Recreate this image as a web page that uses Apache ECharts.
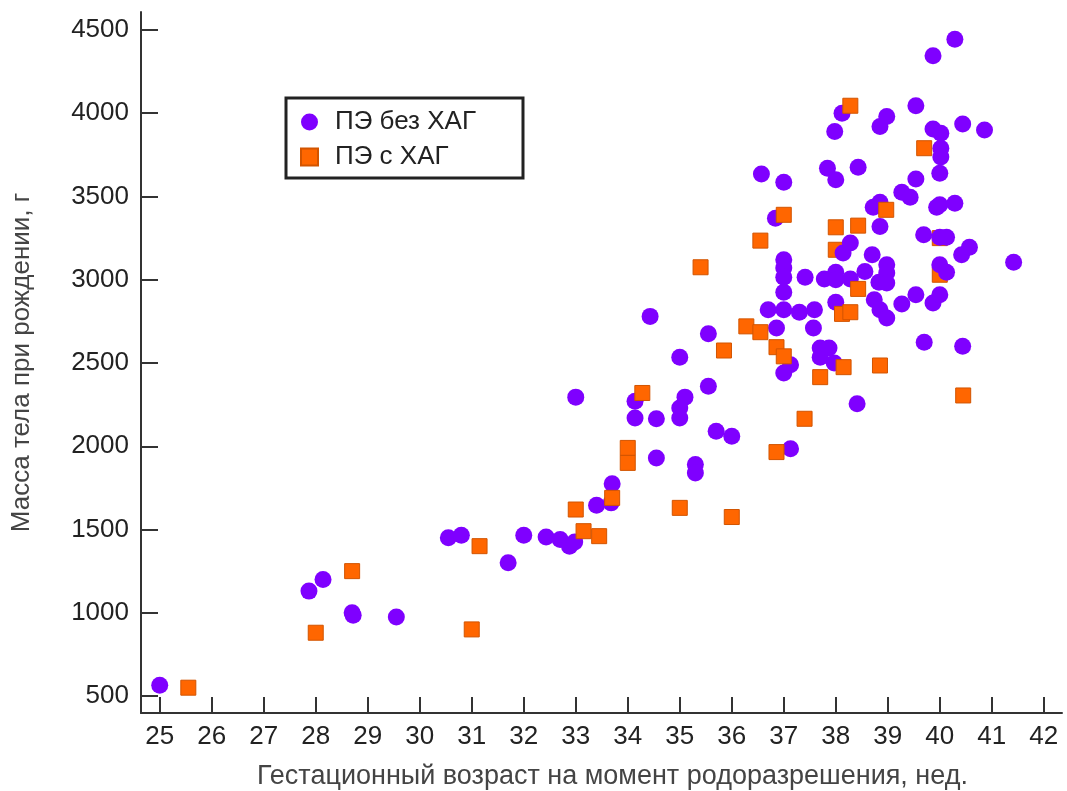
<!DOCTYPE html>
<html>
<head>
<meta charset="utf-8">
<script src="https://cdn.jsdelivr.net/npm/echarts@6/dist/echarts.min.js"></script>
<style>
	html, body { margin: 0; padding: 0; background: #fff; }
	#chart { width: 1067px; height: 791px; }
</style>
</head>
<body>
<div id="chart"></div>
<script>
	//ПЭ без ХАГ: [недели, граммы]
	var noHagPoints = [
		[25, 565], [27.87, 1130], [28.14, 1200], [28.7, 1000], [28.72, 985], [29.55, 975],
		[30.55, 1450], [30.8, 1465], [31.7, 1300], [32, 1465], [32.43, 1455], [32.7, 1440],
		[32.88, 1400], [32.98, 1425], [33, 2295], [33.4, 1645], [33.68, 1660], [33.7, 1775],
		[34.14, 2270], [34.14, 2170], [34.43, 2780], [34.55, 2165], [34.55, 1930],
		[35, 2535], [35.1, 2295], [35, 2230], [35, 2170], [35.3, 1890], [35.3, 1840],
		[35.55, 2675], [35.55, 2360], [35.7, 2090], [36, 2060],
		[36.57, 3635], [36.7, 2820], [36.84, 3370], [36.86, 2710], [37, 3585], [37, 3120],
		[37, 3070], [37, 3015], [37, 2925], [37, 2820], [37, 2440], [37.13, 2490], [37.13, 1985],
		[37.3, 2805], [37.41, 3015], [37.57, 2710], [37.59, 2820], [37.7, 2590], [37.7, 2535],
		[37.78, 3005], [37.84, 3670], [37.87, 2590], [37.97, 2500],
		[37.98, 3890], [38, 3600], [38, 3045], [38, 3000], [38, 2865], [38.12, 4000],
		[38.14, 3160], [38.28, 3220], [38.28, 3005], [38.41, 2255], [38.43, 3675], [38.56, 3050],
		[38.7, 3150], [38.72, 3435], [38.74, 2880], [38.83, 2985], [38.85, 3920], [38.85, 3465],
		[38.85, 3320], [38.85, 2820], [38.98, 3980], [38.98, 3090], [38.98, 3040], [38.98, 2980],
		[38.98, 2770], [39.27, 3525], [39.27, 2855], [39.43, 3495], [39.54, 4045], [39.54, 3605],
		[39.54, 2910], [39.69, 3270], [39.7, 2625], [39.87, 4345], [39.87, 3905], [39.87, 2860],
		[39.94, 3435], [40, 3640], [40, 3450], [40, 3255], [40, 3090], [40, 2910], [40.02, 3880],
		[40.02, 3790], [40.02, 3737], [40.13, 3255], [40.13, 3045], [40.29, 4445], [40.29, 3460],
		[40.42, 3150], [40.44, 3935], [40.44, 2600], [40.57, 3195], [40.86, 3900], [41.42, 3105]
	];
	//ПЭ с ХАГ
	var hagPoints = [
		[25.55, 550], [28, 880], [28.7, 1250], [31, 900], [31.15, 1400], [33, 1620], [33.15, 1490],
		[33.45, 1460], [33.7, 1690], [34, 1990], [34, 1900], [34.28, 2320], [35, 1630], [35.4, 3075],
		[35.85, 2575], [36, 1575], [36.28, 2720], [36.55, 3235], [36.55, 2685], [36.86, 2595],
		[37, 2540], [37, 3390], [36.86, 1965], [37.4, 2165], [37.7, 2415], [38, 3315],
		[38.12, 2795], [38.28, 2805], [38.15, 2475], [38.28, 4045], [38.43, 3325], [38.43, 2945],
		[38.85, 2485], [38.97, 3420], [39.7, 3790], [40.45, 2305]
	];
	//ПЭ с ХАГ, частично закрытые кружками
	var hagBehindPoints = [[38, 3180], [40, 3250], [40, 3030]];

	var xTicks = [25, 26, 27, 28, 29, 30, 31, 32, 33, 34, 35, 36, 37, 38, 39, 40, 41, 42];
	var yTicks = [500, 1000, 1500, 2000, 2500, 3000, 3500, 4000, 4500];

	var purple = "#7f00ff";
	var orange = "#ff6600";
	var axisColor = "#333333";
	var labelFont = "Liberation Sans, Arial, sans-serif";

	var chart = echarts.init(document.getElementById("chart"));
	var option = {
		backgroundColor: "#ffffff",
		animation: false,
		grid: {
			left: 141,
			right: 5,
			top: 12,
			bottom: 78,
			outerBoundsMode: "none",
		},
		legend: {
			left: 286,
			top: 98,
			orient: "vertical",
			data: ["ПЭ без ХАГ", "ПЭ с ХАГ"],
			borderColor: "#222222",
			borderWidth: 3,
			padding: [11, 47, 8, 14],
			itemGap: 9,
			itemWidth: 17,
			itemHeight: 17,
			textStyle: {
				fontFamily: labelFont,
				fontSize: 26,
				color: "#222222",
				padding: [0, 0, 0, 12],
			},
		},
		xAxis: {
			type: "value",
			min: 24.64,
			max: 42.35,
			name: "Гестационный возраст на момент родоразрешения, нед.",
			nameLocation: "middle",
			nameGap: 50,
			nameTextStyle: {
				fontFamily: labelFont,
				fontSize: 27,
				color: "#444444",
				padding: [0, 0, 0, 22],
			},
			splitLine: { show: false },
			axisLine: {
				show: true,
				onZero: false,
				lineStyle: { color: axisColor, width: 2 },
			},
			axisTick: {
				show: true,
				inside: true,
				length: 16,
				customValues: xTicks,
				lineStyle: { color: axisColor, width: 2 },
			},
			axisLabel: {
				customValues: xTicks,
				margin: 11,
				fontFamily: labelFont,
				fontSize: 26,
				color: "#222222",
			},
		},
		yAxis: {
			type: "value",
			min: 398,
			max: 4608,
			name: "Масса тела при рождении, г",
			nameLocation: "middle",
			nameGap: 106,
			nameRotate: 90,
			nameTextStyle: {
				fontFamily: labelFont,
				fontSize: 26,
				color: "#444444",
			},
			splitLine: { show: false },
			axisLine: {
				show: true,
				onZero: false,
				lineStyle: { color: axisColor, width: 2 },
			},
			axisTick: {
				show: true,
				inside: true,
				length: 17,
				customValues: yTicks,
				lineStyle: { color: axisColor, width: 2 },
			},
			axisLabel: {
				customValues: yTicks,
				margin: 12,
				fontFamily: labelFont,
				fontSize: 26,
				color: "#222222",
				formatter: function (value) {
					return String(value);
				},
			},
		},
		series: [
			{
				name: "ПЭ с ХАГ",
				type: "scatter",
				symbol: "rect",
				symbolSize: 15,
				z: 1,
				itemStyle: { color: orange, borderColor: "#d25400", borderWidth: 1, opacity: 1 },
				data: hagBehindPoints,
			},
			{
				name: "ПЭ без ХАГ",
				type: "scatter",
				symbol: "circle",
				symbolSize: 17,
				z: 2,
				itemStyle: { color: purple, opacity: 1 },
				data: noHagPoints,
			},
			{
				name: "ПЭ с ХАГ",
				type: "scatter",
				symbol: "rect",
				symbolSize: 15,
				z: 3,
				itemStyle: { color: orange, borderColor: "#d25400", borderWidth: 1, opacity: 1 },
				data: hagPoints,
			},
		],
	};
	chart.setOption(option);
</script>
</body>
</html>
